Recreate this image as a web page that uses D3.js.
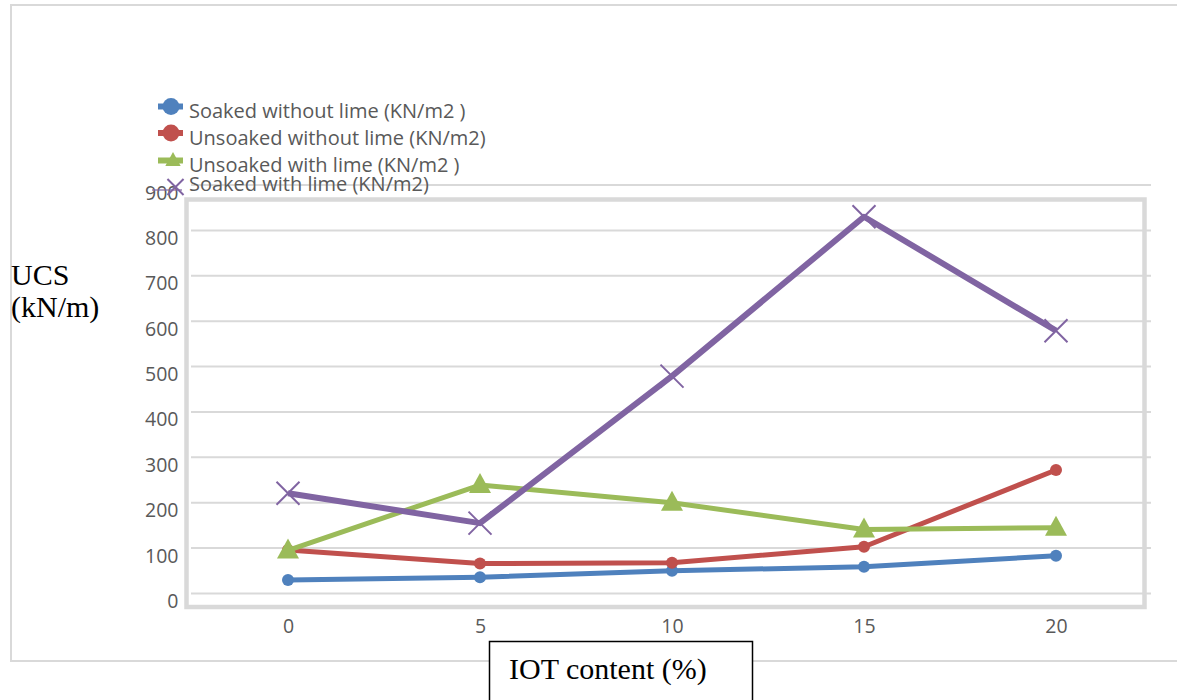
<!DOCTYPE html>
<html>
<head>
<meta charset="utf-8">
<script src="https://cdn.jsdelivr.net/npm/d3@7"></script>
<style>
  html, body { margin: 0; padding: 0; background: #fff; }
  svg { display: block; }
</style>
</head>
<body>
<svg id="chart" width="1177" height="700"></svg>
<script>
// ---- data ----
const categories = [0, 5, 10, 15, 20];
const yTicks = [0, 100, 200, 300, 400, 500, 600, 700, 800, 900];
const seriesNames = [
  "Soaked without lime (KN/m2 )",
  "Unsoaked without lime (KN/m2)",
  "Unsoaked with lime (KN/m2 )",
  "Soaked with lime (KN/m2)"
];
const soakedWithout   = [30, 36, 50, 59, 83];
const unsoakedWithout = [96, 66, 68, 103, 272];
const unsoakedWith    = [95, 239, 200, 141, 145];
const soakedWith      = [221, 155, 479, 830, 579];
const colors = ["#4f81bd", "#c0504d", "#9bbb59", "#8064a2"];
const markers = ["circle", "circle", "triangle", "x"];
const xTitle = "IOT content (%)";
const yTitle = ["UCS", "(kN/m)"];

// ---- layout ----
const svg = d3.select("#chart");
const x = d3.scaleLinear().domain([0, 20]).range([288, 1056]);
const y = d3.scaleLinear().domain([0, 900]).range([593.5, 185]);
const gridX0 = 191, gridX1 = 1151;

// outer chart frame (right edge off canvas)
svg.append("path")
  .attr("d", "M1180,5 L11,5 L11,661 L1180,661")
  .attr("fill", "none").attr("stroke", "#d9d9d9").attr("stroke-width", 2);

// gridlines
svg.append("g").selectAll("line").data(yTicks).join("line")
  .attr("x1", gridX0).attr("x2", gridX1)
  .attr("y1", d => y(d)).attr("y2", d => y(d))
  .attr("stroke", "#d9d9d9").attr("stroke-width", 2);

// plot border
svg.append("rect")
  .attr("x", 186.5).attr("y", 199.5)
  .attr("width", 1144.5 - 186.5).attr("height", 607 - 199.5)
  .attr("fill", "none").attr("stroke", "#d9d9d9").attr("stroke-width", 4.5);

// y tick labels (via axis, no domain / tick lines)
const yAxis = d3.axisLeft(y).tickValues(yTicks).tickSize(0).tickPadding(0).tickFormat(d3.format("d"));
const gy = svg.append("g").attr("transform", "translate(178.5,0)").call(yAxis);
gy.select(".domain").remove();
gy.selectAll("text")
  .attr("dy", "0").attr("y", 14)
  .attr("font-family", "'Open Sans', sans-serif").attr("font-size", 19.5)
  .attr("fill", "#595959");

// x tick labels
const xAxis = d3.axisBottom(x).tickValues(categories).tickSize(0).tickPadding(0).tickFormat(d3.format("d"));
const gx = svg.append("g").attr("transform", "translate(0,633)").call(xAxis);
gx.select(".domain").remove();
gx.selectAll("text")
  .attr("dy", "0").attr("y", 0)
  .attr("font-family", "'Open Sans', sans-serif").attr("font-size", 19.5)
  .attr("fill", "#595959");

// series
const allSeries = [soakedWithout, unsoakedWithout, unsoakedWith, soakedWith];
const widths = [5, 5, 5, 6];
const line = d3.line().x((d, i) => x(categories[i])).y(d => y(d));

function drawMarker(g, type, cx, cy, color, scale) {
  if (type === "circle") {
    g.append("circle").attr("cx", cx).attr("cy", cy).attr("r", 6 * scale).attr("fill", color);
  } else if (type === "triangle") {
    const w = 22 * scale, h = 20 * scale;
    g.append("path")
      .attr("d", `M${cx},${cy - h * 0.6} L${cx + w / 2},${cy + h * 0.4} L${cx - w / 2},${cy + h * 0.4} Z`)
      .attr("fill", color);
  } else {
    const s = 11.5 * scale;
    g.append("path")
      .attr("d", `M${cx - s},${cy - s} L${cx + s},${cy + s} M${cx - s},${cy + s} L${cx + s},${cy - s}`)
      .attr("stroke", color).attr("stroke-width", 2).attr("fill", "none");
  }
}

allSeries.forEach((vals, si) => {
  const g = svg.append("g");
  g.append("path").datum(vals).attr("d", line)
    .attr("fill", "none").attr("stroke", colors[si])
    .attr("stroke-width", widths[si]).attr("stroke-linejoin", "round");
  vals.forEach((v, i) => drawMarker(g, markers[si], x(categories[i]), y(v), colors[si], 1));
});

// legend
const legendMarkerY = [106.5, 133, 160.5, 187];
const legendTextY = [118, 145, 172, 191];
const lg = svg.append("g");
seriesNames.forEach((name, i) => {
  const my = legendMarkerY[i];
  if (i < 3) {
    lg.append("line").attr("x1", 158).attr("x2", 183).attr("y1", my).attr("y2", my)
      .attr("stroke", colors[i]).attr("stroke-width", 6);
  } else {
    lg.append("line").attr("x1", 152).attr("x2", 182).attr("y1", 190).attr("y2", 190)
      .attr("stroke", colors[i]).attr("stroke-width", 1.5).attr("opacity", 0.8);
  }
  if (markers[i] === "circle") {
    drawMarker(lg, "circle", 171, my, colors[i], 1.4);
  } else if (markers[i] === "triangle") {
    drawMarker(lg, "triangle", 173, my, colors[i], 0.7);
  } else {
    drawMarker(lg, "x", 175.5, my, colors[i], 0.7);
  }
  lg.append("text").attr("x", 189).attr("y", legendTextY[i])
    .attr("font-family", "'Open Sans', sans-serif").attr("font-size", 20)
    .attr("fill", "#595959").text(name);
});

// y title
svg.append("g").selectAll("text").data(yTitle).join("text")
  .attr("x", 11).attr("y", (d, i) => 285 + i * 32)
  .attr("font-family", "'Liberation Serif', 'Times New Roman', serif")
  .attr("font-size", 30).attr("fill", "#000").text(d => d);

// x title box
svg.append("rect").attr("x", 489.5).attr("y", 641.5).attr("width", 263).attr("height", 70)
  .attr("fill", "#fff").attr("stroke", "#000").attr("stroke-width", 1.5);
svg.append("text").attr("x", 509).attr("y", 679)
  .attr("font-family", "'Liberation Serif', 'Times New Roman', serif")
  .attr("font-size", 30).attr("fill", "#000").text(xTitle);
</script>
</body>
</html>
